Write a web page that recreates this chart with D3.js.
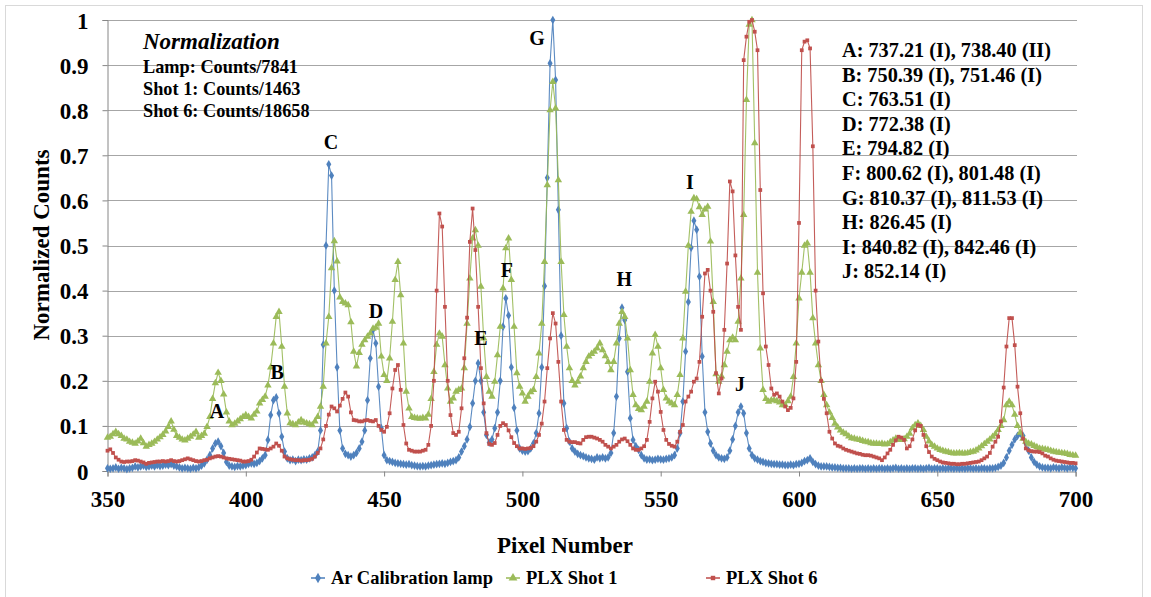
<!DOCTYPE html>
<html>
<head>
<meta charset="utf-8">
<script src="https://cdn.jsdelivr.net/npm/d3@7"></script>
<style>
  html, body { margin: 0; padding: 0; background: #fff; }
  svg text { font-family: "Times New Roman", "Liberation Serif", serif; font-weight: bold; fill: #000; }
</style>
</head>
<body>
<div id="chart"></div>
<script>
// Pixel numbers (x values)
const pixels = [
  350,351,352,353,354,355,356,357,358,359,360,361,362,363,364,365,366,367,368,369,
  370,371,372,373,374,375,376,377,378,379,380,381,382,383,384,385,386,387,388,389,
  390,391,392,393,394,395,396,397,398,399,400,401,402,403,404,405,406,407,408,409,
  410,411,412,413,414,415,416,417,418,419,420,421,422,423,424,425,426,427,428,429,
  430,431,432,433,434,435,436,437,438,439,440,441,442,443,444,445,446,447,448,449,
  450,451,452,453,454,455,456,457,458,459,460,461,462,463,464,465,466,467,468,469,
  470,471,472,473,474,475,476,477,478,479,480,481,482,483,484,485,486,487,488,489,
  490,491,492,493,494,495,496,497,498,499,500,501,502,503,504,505,506,507,508,509,
  510,511,512,513,514,515,516,517,518,519,520,521,522,523,524,525,526,527,528,529,
  530,531,532,533,534,535,536,537,538,539,540,541,542,543,544,545,546,547,548,549,
  550,551,552,553,554,555,556,557,558,559,560,561,562,563,564,565,566,567,568,569,
  570,571,572,573,574,575,576,577,578,579,580,581,582,583,584,585,586,587,588,589,
  590,591,592,593,594,595,596,597,598,599,600,601,602,603,604,605,606,607,608,609,
  610,611,612,613,614,615,616,617,618,619,620,621,622,623,624,625,626,627,628,629,
  630,631,632,633,634,635,636,637,638,639,640,641,642,643,644,645,646,647,648,649,
  650,651,652,653,654,655,656,657,658,659,660,661,662,663,664,665,666,667,668,669,
  670,671,672,673,674,675,676,677,678,679,680,681,682,683,684,685,686,687,688,689,
  690,691,692,693,694,695,696,697,698,699,700
];

// Ar Calibration lamp (Counts/7841)
const lampValues = [
  0.006,0.005,0.006,0.008,0.005,0.007,0.006,0.004,0.006,0.007,
  0.010,0.008,0.010,0.012,0.009,0.010,0.012,0.010,0.013,0.011,
  0.012,0.014,0.013,0.015,0.012,0.010,0.008,0.006,0.007,0.006,
  0.005,0.007,0.006,0.008,0.012,0.017,0.025,0.035,0.050,0.061,
  0.065,0.055,0.040,0.020,0.012,0.010,0.009,0.011,0.010,0.012,
  0.013,0.016,0.017,0.016,0.018,0.022,0.028,0.035,0.069,0.124,
  0.157,0.163,0.128,0.076,0.043,0.028,0.024,0.025,0.022,0.025,
  0.024,0.026,0.025,0.028,0.030,0.035,0.043,0.090,0.280,0.500,
  0.680,0.655,0.400,0.230,0.090,0.050,0.038,0.035,0.032,0.035,
  0.040,0.050,0.065,0.090,0.157,0.250,0.313,0.283,0.187,0.095,
  0.035,0.024,0.022,0.020,0.018,0.017,0.016,0.015,0.014,0.015,
  0.013,0.012,0.011,0.010,0.011,0.010,0.012,0.013,0.014,0.015,
  0.016,0.017,0.016,0.018,0.020,0.022,0.024,0.030,0.043,0.055,
  0.070,0.098,0.150,0.200,0.239,0.200,0.130,0.080,0.063,0.070,
  0.095,0.130,0.200,0.320,0.383,0.345,0.230,0.140,0.090,0.050,
  0.045,0.043,0.044,0.050,0.061,0.084,0.128,0.230,0.410,0.650,
  0.904,1.000,0.867,0.579,0.300,0.150,0.095,0.065,0.050,0.043,
  0.038,0.035,0.033,0.030,0.028,0.027,0.025,0.030,0.028,0.030,
  0.028,0.030,0.040,0.084,0.165,0.294,0.362,0.335,0.220,0.117,
  0.069,0.055,0.047,0.035,0.028,0.025,0.026,0.024,0.025,0.027,
  0.026,0.025,0.027,0.028,0.030,0.035,0.050,0.084,0.154,0.265,
  0.375,0.495,0.555,0.535,0.431,0.254,0.130,0.087,0.061,0.045,
  0.035,0.030,0.028,0.027,0.030,0.045,0.070,0.100,0.130,0.143,
  0.128,0.084,0.050,0.035,0.028,0.025,0.022,0.020,0.018,0.017,
  0.016,0.015,0.015,0.014,0.014,0.013,0.013,0.014,0.013,0.015,
  0.016,0.018,0.022,0.024,0.028,0.020,0.015,0.012,0.010,0.010,
  0.010,0.009,0.008,0.008,0.007,0.007,0.006,0.006,0.006,0.005,
  0.006,0.005,0.006,0.006,0.005,0.006,0.005,0.006,0.005,0.006,
  0.006,0.005,0.006,0.005,0.006,0.007,0.005,0.006,0.005,0.006,
  0.005,0.006,0.006,0.005,0.006,0.005,0.006,0.007,0.005,0.006,
  0.006,0.005,0.006,0.005,0.006,0.006,0.005,0.006,0.005,0.006,
  0.005,0.006,0.006,0.005,0.006,0.005,0.006,0.006,0.005,0.006,
  0.006,0.007,0.009,0.012,0.018,0.030,0.045,0.058,0.070,0.078,
  0.083,0.078,0.061,0.045,0.030,0.020,0.014,0.010,0.008,0.007,
  0.007,0.006,0.008,0.007,0.006,0.008,0.007,0.006,0.008,0.007,
  0.006
];

// PLX Shot 1 (Counts/1463)
const shot1Values = [
  0.074,0.076,0.082,0.087,0.082,0.078,0.072,0.070,0.065,0.063,
  0.061,0.066,0.072,0.062,0.054,0.058,0.061,0.065,0.070,0.075,
  0.080,0.088,0.098,0.110,0.092,0.078,0.074,0.070,0.068,0.072,
  0.076,0.081,0.087,0.074,0.078,0.083,0.098,0.120,0.160,0.195,
  0.218,0.200,0.170,0.130,0.110,0.102,0.105,0.110,0.115,0.120,
  0.124,0.120,0.117,0.125,0.132,0.150,0.158,0.165,0.190,0.230,
  0.283,0.342,0.353,0.276,0.187,0.128,0.106,0.104,0.102,0.108,
  0.113,0.108,0.106,0.104,0.102,0.110,0.120,0.143,0.187,0.283,
  0.342,0.450,0.510,0.465,0.385,0.375,0.372,0.368,0.330,0.265,
  0.232,0.262,0.280,0.290,0.298,0.305,0.316,0.318,0.327,0.254,
  0.213,0.200,0.250,0.331,0.424,0.464,0.390,0.283,0.176,0.139,
  0.120,0.118,0.117,0.116,0.118,0.117,0.125,0.160,0.220,0.280,
  0.305,0.298,0.235,0.183,0.154,0.161,0.176,0.180,0.183,0.228,
  0.327,0.427,0.516,0.534,0.500,0.409,0.294,0.209,0.176,0.165,
  0.198,0.257,0.320,0.405,0.494,0.516,0.424,0.320,0.217,0.187,
  0.172,0.154,0.165,0.175,0.180,0.209,0.261,0.327,0.464,0.634,
  0.800,0.863,0.804,0.645,0.464,0.346,0.276,0.228,0.200,0.190,
  0.198,0.210,0.228,0.242,0.254,0.260,0.265,0.272,0.283,0.268,
  0.255,0.242,0.224,0.242,0.283,0.327,0.353,0.342,0.294,0.224,
  0.169,0.146,0.138,0.135,0.143,0.154,0.198,0.261,0.302,0.276,
  0.228,0.180,0.161,0.154,0.150,0.146,0.169,0.213,0.294,0.398,
  0.500,0.575,0.605,0.603,0.585,0.568,0.580,0.586,0.509,0.375,
  0.215,0.198,0.210,0.235,0.265,0.290,0.296,0.290,0.331,0.427,
  0.568,0.823,0.990,1.000,0.727,0.440,0.272,0.180,0.160,0.154,
  0.157,0.157,0.155,0.152,0.146,0.146,0.155,0.165,0.209,0.283,
  0.383,0.440,0.500,0.505,0.440,0.339,0.283,0.235,0.200,0.169,
  0.146,0.130,0.118,0.105,0.097,0.090,0.085,0.082,0.077,0.073,
  0.072,0.070,0.069,0.067,0.065,0.064,0.062,0.061,0.061,0.060,
  0.061,0.059,0.060,0.064,0.068,0.072,0.070,0.069,0.071,0.076,
  0.083,0.095,0.102,0.106,0.100,0.091,0.076,0.066,0.058,0.054,
  0.050,0.047,0.045,0.043,0.042,0.040,0.039,0.039,0.040,0.039,
  0.039,0.040,0.042,0.043,0.046,0.050,0.055,0.060,0.065,0.070,
  0.076,0.082,0.091,0.100,0.113,0.146,0.154,0.146,0.125,0.100,
  0.085,0.072,0.065,0.061,0.059,0.056,0.053,0.050,0.049,0.048,
  0.047,0.045,0.043,0.042,0.041,0.040,0.039,0.038,0.036,0.035,
  0.034
];

// PLX Shot 6 (Counts/18658)
const shot6Values = [
  0.045,0.048,0.040,0.030,0.025,0.021,0.020,0.021,0.021,0.022,
  0.024,0.023,0.021,0.019,0.016,0.018,0.019,0.020,0.021,0.021,
  0.022,0.021,0.022,0.024,0.022,0.021,0.022,0.024,0.026,0.028,
  0.026,0.024,0.022,0.021,0.022,0.024,0.025,0.028,0.030,0.032,
  0.033,0.032,0.030,0.028,0.027,0.026,0.025,0.024,0.023,0.021,
  0.021,0.022,0.025,0.032,0.041,0.050,0.049,0.048,0.047,0.050,
  0.054,0.061,0.056,0.045,0.032,0.028,0.026,0.025,0.024,0.024,
  0.023,0.024,0.024,0.025,0.027,0.032,0.040,0.050,0.070,0.100,
  0.125,0.143,0.139,0.132,0.145,0.160,0.174,0.165,0.130,0.113,
  0.112,0.110,0.110,0.112,0.113,0.111,0.110,0.113,0.100,0.091,
  0.087,0.098,0.128,0.183,0.224,0.235,0.180,0.102,0.061,0.047,
  0.045,0.043,0.043,0.043,0.045,0.047,0.058,0.100,0.200,0.400,
  0.571,0.542,0.364,0.200,0.124,0.084,0.080,0.087,0.139,0.250,
  0.340,0.508,0.582,0.490,0.364,0.228,0.150,0.084,0.060,0.058,
  0.062,0.080,0.100,0.106,0.102,0.090,0.075,0.062,0.055,0.050,
  0.050,0.049,0.050,0.051,0.055,0.065,0.080,0.105,0.154,0.228,
  0.294,0.350,0.327,0.242,0.154,0.091,0.069,0.065,0.064,0.064,
  0.062,0.061,0.069,0.075,0.076,0.076,0.074,0.072,0.069,0.065,
  0.058,0.054,0.050,0.054,0.058,0.065,0.070,0.072,0.066,0.058,
  0.050,0.047,0.047,0.050,0.055,0.069,0.109,0.161,0.198,0.176,
  0.131,0.091,0.069,0.060,0.056,0.054,0.065,0.087,0.102,0.154,
  0.165,0.176,0.198,0.205,0.242,0.342,0.438,0.446,0.400,0.353,
  0.217,0.172,0.205,0.313,0.460,0.642,0.620,0.478,0.364,0.313,
  0.911,0.963,0.996,1.000,0.974,0.933,0.623,0.394,0.276,0.235,
  0.183,0.169,0.172,0.165,0.154,0.143,0.135,0.140,0.161,0.242,
  0.550,0.933,0.952,0.955,0.937,0.720,0.400,0.287,0.200,0.160,
  0.128,0.087,0.072,0.061,0.056,0.054,0.050,0.047,0.045,0.043,
  0.041,0.039,0.038,0.036,0.035,0.035,0.034,0.032,0.030,0.028,
  0.024,0.030,0.039,0.047,0.058,0.068,0.076,0.074,0.069,0.050,
  0.055,0.070,0.090,0.102,0.100,0.080,0.055,0.042,0.032,0.027,
  0.024,0.021,0.019,0.018,0.017,0.016,0.016,0.015,0.015,0.016,
  0.016,0.017,0.018,0.019,0.020,0.021,0.024,0.028,0.032,0.040,
  0.054,0.065,0.076,0.110,0.185,0.276,0.339,0.339,0.279,0.187,
  0.128,0.072,0.050,0.046,0.044,0.043,0.043,0.042,0.039,0.034,
  0.032,0.028,0.025,0.023,0.022,0.021,0.020,0.019,0.018,0.018,
  0.017
];

const seriesNames = ["Ar Calibration lamp", "PLX Shot 1", "PLX Shot 6"];
const xTicks = [350, 400, 450, 500, 550, 600, 650, 700];
const yTicks = [0, 0.1, 0.2, 0.3, 0.4, 0.5, 0.6, 0.7, 0.8, 0.9, 1];

// Peak letters, placed in data units (pixel, normalized counts)
const peakLetters = ["A", "B", "C", "D", "E", "F", "G", "H", "I", "J"];
const peakPixels = [389.6, 411.3, 430.8, 447.1, 485, 494.4, 505.3, 536.8, 560.6, 578.7];
const peakLevels = [0.133, 0.22, 0.73, 0.355, 0.295, 0.446, 0.96, 0.426, 0.64, 0.193];

const lineIds = [
  "A: 737.21 (I), 738.40 (II)",
  "B: 750.39 (I), 751.46 (I)",
  "C: 763.51 (I)",
  "D: 772.38 (I)",
  "E: 794.82 (I)",
  "F: 800.62 (I), 801.48 (I)",
  "G: 810.37 (I), 811.53 (I)",
  "H: 826.45 (I)",
  "I: 840.82 (I), 842.46 (I)",
  "J: 852.14 (I)"
];
const normTitle = "Normalization";
const normLines = ["Lamp: Counts/7841", "Shot 1: Counts/1463", "Shot 6: Counts/18658"];

// Layout
const W = 1151, H = 597;
const plotLeft = 107.5, plotRight = 1075.6, plotTop = 20, plotBottom = 471;
const colors = ["#4a7ebb", "#98b954", "#be4b48"];
const markerFill = ["#4f81bd", "#9bbb59", "#c0504d"];
const shapes = [d3.symbolDiamond, d3.symbolTriangle, d3.symbolSquare];
const shapeSize = [22, 24, 14];

const svg = d3.select("#chart").append("svg")
  .attr("width", W).attr("height", H);

// chart area border
svg.append("rect")
  .attr("x", 5.5).attr("y", 5.5)
  .attr("width", 1137).attr("height", 600)
  .attr("fill", "none").attr("stroke", "#d9d9d9");

const xScale = d3.scaleLinear().domain([350, 700]).range([plotLeft, plotRight]);
const yScale = d3.scaleLinear().domain([0, 1]).range([plotBottom, plotTop]);

// gridlines
svg.append("g").selectAll("line")
  .data(yTicks.slice(1))
  .enter().append("line")
  .attr("x1", plotLeft).attr("x2", 1077)
  .attr("y1", d => Math.round(yScale(d)) + 0.5)
  .attr("y2", d => Math.round(yScale(d)) + 0.5)
  .attr("stroke", "#a6a6a6").attr("stroke-width", 1);

// axes
const yAxis = d3.axisLeft(yScale).tickValues(yTicks).tickSize(5).tickFormat(d3.format("~g"));
const xAxis = d3.axisBottom(xScale).tickValues(xTicks).tickSize(5).tickFormat(d3.format("d"));

const gy = svg.append("g").attr("transform", "translate(" + plotLeft + ",0)").call(yAxis);
const gx = svg.append("g").attr("transform", "translate(0," + (plotBottom + 0.5) + ")").call(xAxis);

[gx, gy].forEach(g => {
  g.select(".domain").attr("stroke", "#868686");
  g.selectAll(".tick line").attr("stroke", "#868686");
  g.selectAll(".tick text")
    .attr("font-family", "'Times New Roman', 'Liberation Serif', serif")
    .attr("font-weight", "bold")
    .attr("font-size", 23)
    .attr("fill", "#000");
});
gy.selectAll(".tick text").attr("x", -19).attr("dy", "0.35em");
gx.selectAll(".tick text").attr("y", 19).attr("dy", "0.71em");

// axis titles
svg.append("text")
  .attr("x", 565).attr("y", 553)
  .attr("text-anchor", "middle")
  .attr("font-size", 23)
  .text("Pixel Number");

svg.append("text")
  .attr("transform", "translate(49,245) rotate(-90)")
  .attr("text-anchor", "middle")
  .attr("font-size", 23)
  .text("Normalized Counts");

// series
const allSeries = [lampValues, shot1Values, shot6Values];
const line = d3.line()
  .x((d, i) => xScale(pixels[i]))
  .y(d => yScale(d));

allSeries.forEach((vals, k) => {
  const g = svg.append("g");
  g.append("path")
    .datum(vals)
    .attr("d", line)
    .attr("fill", "none")
    .attr("stroke", colors[k])
    .attr("stroke-width", 1.1)
    .attr("stroke-opacity", 0.9);
  g.selectAll("path.mk")
    .data(vals)
    .enter().append("path")
    .attr("class", "mk")
    .attr("d", d3.symbol().type(shapes[k]).size(shapeSize[k]))
    .attr("transform", (d, i) => "translate(" + xScale(pixels[i]) + "," + yScale(d) + ")")
    .attr("fill", markerFill[k]);
});

// peak letters
svg.append("g").selectAll("text")
  .data(peakLetters)
  .enter().append("text")
  .attr("x", (d, i) => xScale(peakPixels[i]))
  .attr("y", (d, i) => yScale(peakLevels[i]))
  .attr("dy", "0.35em")
  .attr("text-anchor", "middle")
  .attr("font-size", 20)
  .text(d => d);

// normalization note
svg.append("text")
  .attr("x", 143).attr("y", 49)
  .attr("font-size", 23)
  .attr("font-style", "italic")
  .text(normTitle);

svg.append("g").selectAll("text")
  .data(normLines)
  .enter().append("text")
  .attr("x", 143)
  .attr("y", (d, i) => 73 + i * 22)
  .attr("font-size", 18.3)
  .text(d => d);

// line identifications
svg.append("g").selectAll("text")
  .data(lineIds)
  .enter().append("text")
  .attr("x", 842)
  .attr("y", (d, i) => 57 + i * 24.6)
  .attr("font-size", 20.3)
  .text(d => d);

// legend
const legendX = [318, 513, 713];
const lg = svg.append("g");
seriesNames.forEach((name, k) => {
  lg.append("line")
    .attr("x1", legendX[k] - 7).attr("x2", legendX[k] + 7)
    .attr("y1", 578).attr("y2", 578)
    .attr("stroke", colors[k]).attr("stroke-width", 1.5);
  lg.append("path")
    .attr("d", d3.symbol().type(shapes[k]).size(shapeSize[k] * 1.4))
    .attr("transform", "translate(" + legendX[k] + ",578)")
    .attr("fill", markerFill[k]);
  lg.append("text")
    .attr("x", legendX[k] + 13)
    .attr("y", 578)
    .attr("dy", "0.35em")
    .attr("font-size", 18.5)
    .text(name);
});
</script>
</body>
</html>
